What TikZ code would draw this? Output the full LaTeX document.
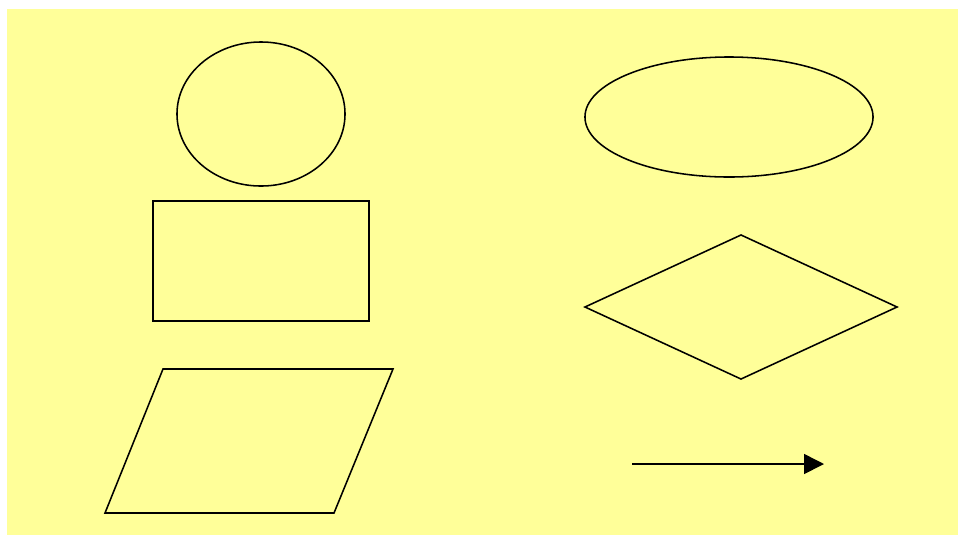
\documentclass[tikz,border=0pt]{standalone}
\usetikzlibrary{shapes.geometric,arrows.meta}
\definecolor{paleyellow}{HTML}{FFFF99}
\tikzset{
  base/.style={draw=black,line width=1.1pt,inner sep=0pt,outer sep=0pt},
  roundbox/.style={base,ellipse},
  squarebox/.style={base,rectangle},
  choicebox/.style={base,diamond},
  ioline/.style={draw=black,line width=1.1pt},
  ar/.style={-{Triangle[length=5mm,width=5mm]},line width=1.1pt},
}
\begin{document}
\begin{tikzpicture}[x=0.025cm,y=-0.025cm]
\useasboundingbox (0,0) rectangle (958,535);
\fill[paleyellow] (7,9) rectangle (958,535);
% ---- left column ----
\node[roundbox,minimum width=4.2cm,minimum height=3.6cm] (circ) at (261,114){};
\node[squarebox,minimum width=5.4cm,minimum height=3.0cm] (proc) at (261,261){};
\coordinate (ioA) at (163,369);
\coordinate (ioB) at (393,369);
\coordinate (ioC) at (334,513);
\coordinate (ioD) at (105,513);
\draw[ioline] (ioA) -- (ioB) -- (ioC) -- (ioD) -- cycle;
% ---- right column ----
\node[roundbox,minimum width=7.2cm,minimum height=3.0cm] (oval) at (729,117){};
\node[choicebox,minimum width=7.8cm,minimum height=3.6cm] (dec) at (741,307){};
\coordinate (arrA) at (632,464);
\coordinate (arrB) at (824,464);
\draw[ar] (arrA) -- (arrB);
\end{tikzpicture}
\end{document}
